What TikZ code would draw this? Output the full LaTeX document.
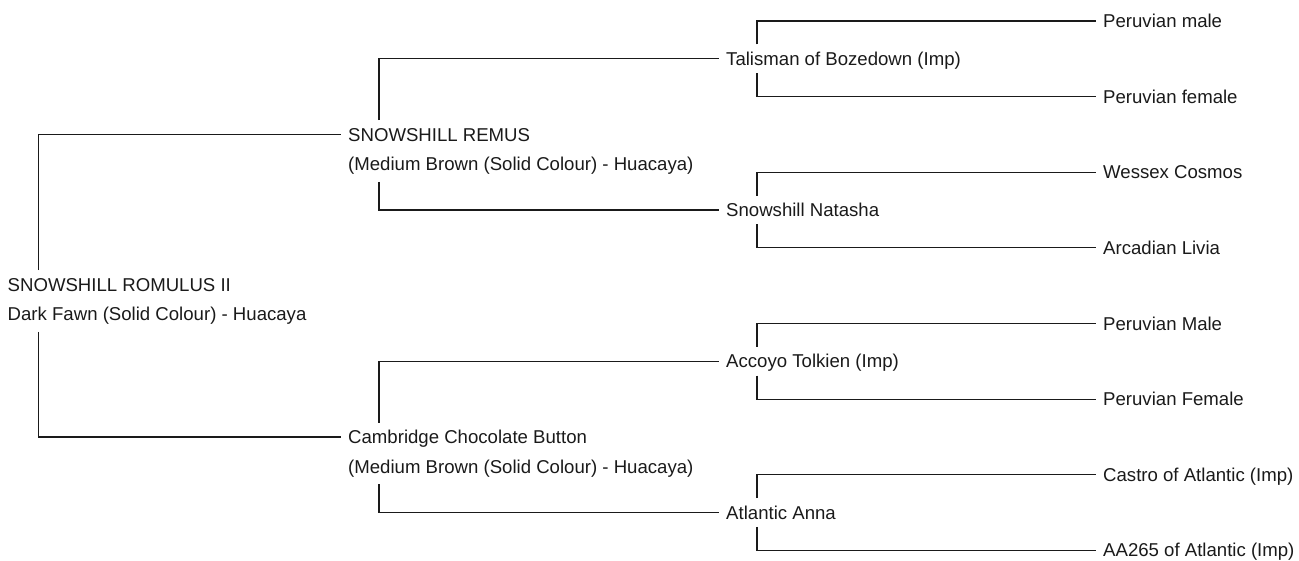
\documentclass[tikz,border=0pt]{standalone}
\usepackage{fontspec}
\setmainfont{Liberation Sans}
\definecolor{ink}{HTML}{1A1A1A}
\begin{document}
\begin{tikzpicture}[x=1pt,y=-1pt,
  person/.style={anchor=west, inner xsep=7pt, inner ysep=7.5pt,
    text height=13.3pt, text depth=0pt, text=ink,
    font=\fontsize{18.6}{22}\selectfont},
  desc/.style={anchor=base west, inner xsep=7pt, inner ysep=7.5pt,
    text height=13.3pt, text depth=3.5pt, text=ink,
    font=\fontsize{18.6}{22}\selectfont},
  link/.style={draw=ink, line width=1.2pt}]
\useasboundingbox (0,0) rectangle (1299,560);

% root
\node[person] (r) at (0.5,284.4) {SNOWSHILL ROMULUS II};
\node[desc] (rd) at ([yshift=-29.7pt]r.base west) {Dark Fawn (Solid Colour) - Huacaya};

% level 1
\node[person] (a) at (341,134.4) {SNOWSHILL REMUS};
\node[desc] (ad) at ([yshift=-29.7pt]a.base west) {(Medium Brown (Solid Colour) - Huacaya)};
\node[person] (b) at (341,436.9) {Cambridge Chocolate Button};
\node[desc] (bd) at ([yshift=-29.7pt]b.base west) {(Medium Brown (Solid Colour) - Huacaya)};

% level 2
\node[person] (t) at (719,58.7) {Talisman of Bozedown (Imp)};
\node[person] (n) at (719,210.0) {Snowshill Natasha};
\node[person] (k) at (719,361.2) {Accoyo Tolkien (Imp)};
\node[person] (h) at (719,512.5) {Atlantic Anna};

% level 3
\node[person] (l1) at (1096,20.9) {Peruvian male};
\node[person] (l2) at (1096,96.5) {Peruvian female};
\node[person] (l3) at (1096,172.2) {Wessex Cosmos};
\node[person] (l4) at (1096,247.8) {Arcadian Livia};
\node[person] (l5) at (1096,323.4) {Peruvian Male};
\node[person] (l6) at (1096,399.1) {Peruvian Female};
\node[person] (l7) at (1096,474.7) {Castro of Atlantic (Imp)};
\node[person] (l8) at (1096,550.3) {AA265 of Atlantic (Imp)};

% connectors
\draw[link] ([xshift=38pt]r.north west) |- (a.west);
\draw[link] ([xshift=38pt]rd.south west) |- (b.west);

\draw[link] ([xshift=38pt]a.north west) |- (t.west);
\draw[link] ([xshift=38pt]ad.south west) |- (n.west);
\draw[link] ([xshift=38pt]b.north west) |- (k.west);
\draw[link] ([xshift=38pt]bd.south west) |- (h.west);

\draw[link] ([xshift=38pt]t.north west) |- (l1.west);
\draw[link] ([xshift=38pt]t.south west) |- (l2.west);
\draw[link] ([xshift=38pt]n.north west) |- (l3.west);
\draw[link] ([xshift=38pt]n.south west) |- (l4.west);
\draw[link] ([xshift=38pt]k.north west) |- (l5.west);
\draw[link] ([xshift=38pt]k.south west) |- (l6.west);
\draw[link] ([xshift=38pt]h.north west) |- (l7.west);
\draw[link] ([xshift=38pt]h.south west) |- (l8.west);
\end{tikzpicture}
\end{document}
